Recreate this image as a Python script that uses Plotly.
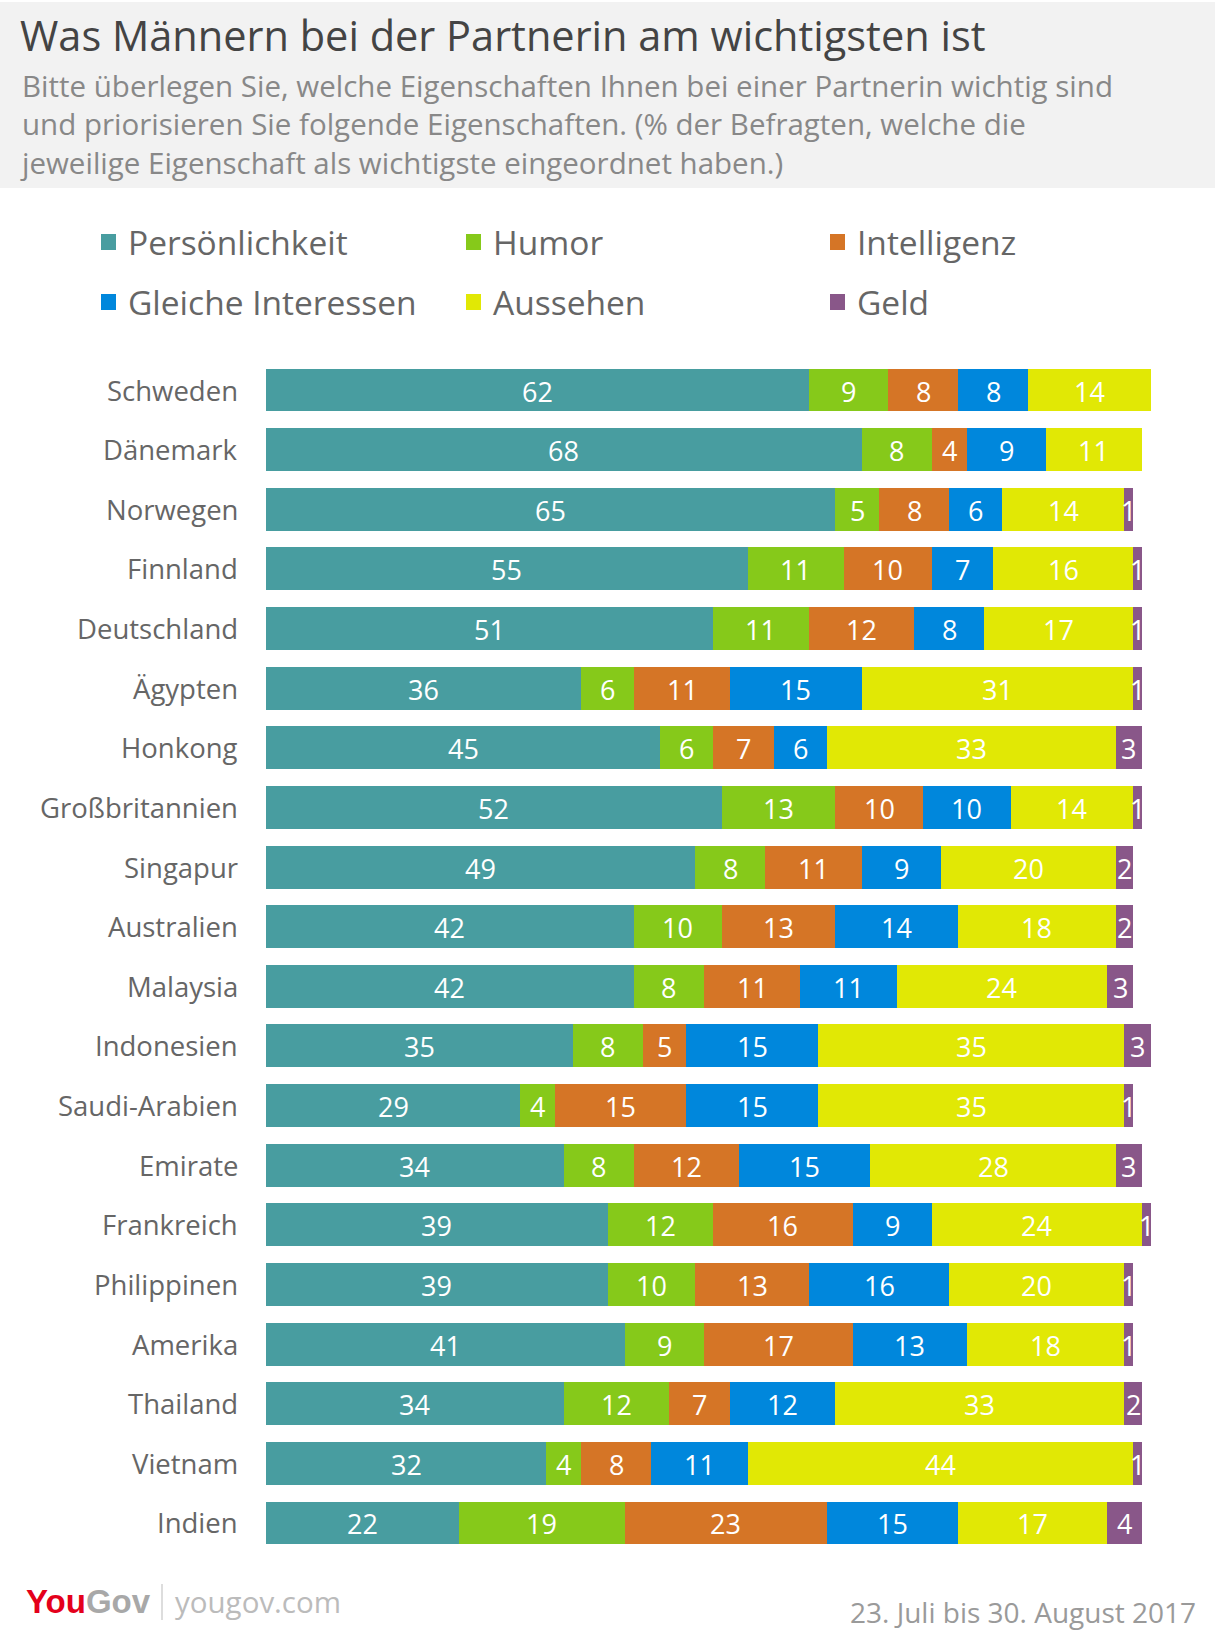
import plotly.graph_objects as go

countries = ["Schweden", "Dänemark", "Norwegen", "Finnland", "Deutschland", "Ägypten",
             "Honkong", "Großbritannien", "Singapur", "Australien", "Malaysia", "Indonesien",
             "Saudi-Arabien", "Emirate", "Frankreich", "Philippinen", "Amerika", "Thailand",
             "Vietnam", "Indien"]
series_names = ["Persönlichkeit", "Humor", "Intelligenz", "Gleiche Interessen", "Aussehen", "Geld"]
series_colors = ["#489DA0", "#86C91A", "#D57526", "#0087DC", "#E1E805", "#895789"]

persoenlichkeit = [62, 68, 65, 55, 51, 36, 45, 52, 49, 42, 42, 35, 29, 34, 39, 39, 41, 34, 32, 22]
humor =           [9, 8, 5, 11, 11, 6, 6, 13, 8, 10, 8, 8, 4, 8, 12, 10, 9, 12, 4, 19]
intelligenz =     [8, 4, 8, 10, 12, 11, 7, 10, 11, 13, 11, 5, 15, 12, 16, 13, 17, 7, 8, 23]
interessen =      [8, 9, 6, 7, 8, 15, 6, 10, 9, 14, 11, 15, 15, 15, 9, 16, 13, 12, 11, 15]
aussehen =        [14, 11, 14, 16, 17, 31, 33, 14, 20, 18, 24, 35, 35, 28, 24, 20, 18, 33, 44, 17]
geld =            [0, 0, 1, 1, 1, 1, 3, 1, 2, 2, 3, 3, 1, 3, 1, 1, 1, 2, 1, 4]

title = "Was Männern bei der Partnerin am wichtigsten ist"
subtitle_lines = [
    "Bitte überlegen Sie, welche Eigenschaften Ihnen bei einer Partnerin wichtig sind",
    "und priorisieren Sie folgende Eigenschaften. (% der Befragten, welche die",
    "jeweilige Eigenschaft als wichtigste eingeordnet haben.)",
]
date_text = "23. Juli bis 30. August 2017"

W, H = 1215, 1641
FONT = "'Open Sans', Lato, sans-serif"


def px_y(p):
    return 1 - p / H


def px_x(p):
    return p / W


series = [persoenlichkeit, humor, intelligenz, interessen, aussehen, geld]
n = len(countries)

fig = go.Figure()
for name, vals, col in zip(series_names, series, series_colors):
    fig.add_trace(go.Bar(
        y=countries, x=vals, orientation="h", name=name,
        marker=dict(color=col, line=dict(width=0)),
        width=0.72, showlegend=False, hoverinfo="x+name",
    ))

annotations = []
shapes = []

# value labels at segment centers
cum = [0] * n
for vals in series:
    for i, v in enumerate(vals):
        if v > 0:
            annotations.append(dict(
                text=str(v), x=cum[i] + v / 2, y=countries[i], xref="x", yref="y",
                xanchor="center", yanchor="middle", yshift=-1, showarrow=False,
                font=dict(color="white", size=27, family=FONT)))
        cum[i] += v

x_left = 266
px_per_unit = 8.76
x_max = (W - x_left) / px_per_unit
bar_top = 360.2
bar_bottom = 1552.8

fig.update_layout(
    width=W, height=H,
    margin=dict(l=0, r=0, t=0, b=0),
    paper_bgcolor="white", plot_bgcolor="white",
    barmode="stack",
    xaxis=dict(domain=[px_x(x_left), 1], range=[0, x_max], visible=False, fixedrange=True),
    yaxis=dict(domain=[px_y(bar_bottom), px_y(bar_top)], range=[n - 0.5, -0.5],
               type="category", categoryarray=countries, visible=False, fixedrange=True),
    font=dict(family=FONT),
)

# header band
shapes.append(dict(type="rect", xref="paper", yref="paper", x0=0, x1=1,
                   y0=px_y(188), y1=px_y(2), fillcolor="#F2F2F2", line=dict(width=0), layer="below"))

annotations.append(dict(text=title, xref="paper", yref="paper", x=px_x(18), y=px_y(35),
                        xanchor="left", yanchor="middle", showarrow=False,
                        font=dict(size=41.5, color="#444444", family=FONT)))
annotations.append(dict(text="<br>".join(subtitle_lines), xref="paper", yref="paper",
                        x=px_x(18), y=px_y(123.5), align="left",
                        xanchor="left", yanchor="middle", showarrow=False,
                        font=dict(size=29.5, color="#888888", family=FONT)))

# legend
leg_x = [101, 466, 830]
leg_y = [242, 302]
for idx, (name, col) in enumerate(zip(series_names, series_colors)):
    r, c = divmod(idx, 3)
    x0 = leg_x[c]
    yc = leg_y[r]
    shapes.append(dict(type="rect", xref="paper", yref="paper",
                       x0=px_x(x0), x1=px_x(x0 + 15), y0=px_y(yc + 8), y1=px_y(yc - 8),
                       fillcolor=col, line=dict(width=0)))
    annotations.append(dict(text=name, xref="paper", yref="paper", x=px_x(x0 + 25), y=px_y(yc),
                            xanchor="left", yanchor="middle", showarrow=False,
                            font=dict(size=33.5, color="#666666", family=FONT)))

# country labels
for c in countries:
    annotations.append(dict(text=c, xref="paper", yref="y", x=px_x(240), y=c,
                            xanchor="right", yanchor="middle", showarrow=False,
                            font=dict(size=27.5, color="#666666", family=FONT)))

# footer
annotations.append(dict(text="<b><span style='color:#E4001B'>You</span><span style='color:#A8A8A8'>Gov</span></b>",
                        xref="paper", yref="paper", x=px_x(24), y=px_y(1601),
                        xanchor="left", yanchor="middle", showarrow=False,
                        font=dict(size=33, family="'Liberation Sans Narrow', 'Liberation Sans', sans-serif")))
shapes.append(dict(type="line", xref="paper", yref="paper", x0=px_x(162), x1=px_x(162),
                   y0=px_y(1584), y1=px_y(1620), line=dict(color="#BBBBBB", width=1)))
annotations.append(dict(text="yougov.com", xref="paper", yref="paper", x=px_x(173), y=px_y(1601),
                        xanchor="left", yanchor="middle", showarrow=False,
                        font=dict(size=29.5, color="#BBBBBB", family=FONT)))
annotations.append(dict(text=date_text, xref="paper", yref="paper", x=px_x(1198), y=px_y(1612),
                        xanchor="right", yanchor="middle", showarrow=False,
                        font=dict(size=28, color="#9A9A9A", family=FONT)))

fig.update_layout(shapes=shapes, annotations=annotations)

fig.write_html("out.html", config={"displayModeBar": False},
               post_script="document.body.style.margin='0';")
